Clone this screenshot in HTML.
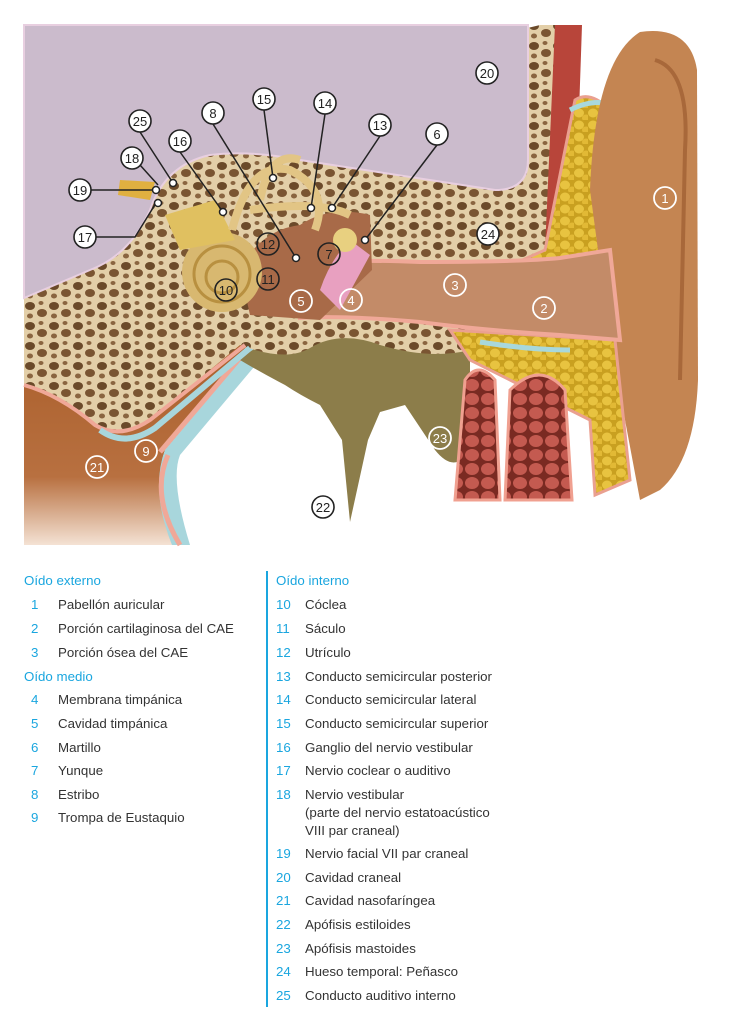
<!DOCTYPE html>
<html><head><meta charset="utf-8"><style>
html,body{margin:0;padding:0;background:#fff;}
body{width:743px;height:1024px;position:relative;overflow:hidden;font-family:"Liberation Sans",sans-serif;}
.t{position:absolute;font-size:13.3px;color:#333;white-space:nowrap;line-height:18px;}
.h{color:#1aa6df;}
.n{position:absolute;font-size:13.3px;color:#1aa6df;line-height:18px;}
</style></head><body>
<svg width="743" height="560" style="position:absolute;left:0;top:0" xmlns="http://www.w3.org/2000/svg">
<defs>
<pattern id="bone" width="24" height="20" patternUnits="userSpaceOnUse">
<rect width="24" height="20" fill="#e3cfa8"/>
<ellipse cx="6" cy="6" rx="5" ry="4" fill="#6b4a2a"/>
<ellipse cx="18" cy="13" rx="5" ry="4" fill="#7a5532"/>
<ellipse cx="17" cy="3" rx="2.5" ry="2" fill="#8a6540"/>
<ellipse cx="6" cy="16" rx="3" ry="2.5" fill="#8a6540"/>
</pattern>
<pattern id="fat" width="14" height="12" patternUnits="userSpaceOnUse">
<rect width="14" height="12" fill="#c9a020"/>
<ellipse cx="5" cy="5" rx="5" ry="4.5" fill="#e8c340"/>
<ellipse cx="12" cy="10" rx="4" ry="3.5" fill="#e2b935"/>
</pattern>
<pattern id="musc" width="16" height="14" patternUnits="userSpaceOnUse">
<rect width="16" height="14" fill="#7a2a22"/>
<ellipse cx="8" cy="7" rx="7" ry="6" fill="#c45a50"/>
</pattern>
<linearGradient id="naso" x1="0" y1="0" x2="0" y2="1">
<stop offset="0" stop-color="#a85c28"/><stop offset="0.7" stop-color="#b87040"/><stop offset="1" stop-color="#f4e2d4"/>
</linearGradient>
</defs>
<!-- nasopharynx + tube -->
<path d="M24,380 L250,318 L270,325 L165,450 Q150,490 185,545 L24,545 Z" fill="url(#naso)"/>
<path d="M165,450 L270,325 L285,330 L180,455 Q170,480 190,545 L172,545 Q150,490 165,450 Z" fill="#a8d6dc"/>
<path d="M160,452 L268,325" fill="none" stroke="#f0a898" stroke-width="5"/>
<path d="M168,455 Q150,495 180,545" fill="none" stroke="#f0a898" stroke-width="5"/>
<!-- styloid region -->
<path d="M240,360 Q260,340 300,335 L470,340 L470,450 Q455,475 435,450 L405,405 L380,412 L368,440 L350,522 L342,440 L320,405 Q300,395 285,385 Q260,372 240,360 Z" fill="#8c7d4a"/>
<!-- bone base -->
<path d="M24,150 L540,25 L560,25 L560,330 L470,330 L470,350 Q430,360 380,345 Q340,330 310,348 Q290,360 255,350 L240,345 L150,420 Q120,440 95,425 Q60,395 24,385 Z" fill="url(#bone)"/>
<path d="M24,385 Q60,395 95,425 Q120,440 150,420 L245,345" fill="none" stroke="#f0a898" stroke-width="4"/>
<path d="M100,430 Q125,448 155,428 L250,348" fill="none" stroke="#a8d6dc" stroke-width="6"/>
<!-- cranial cavity -->
<path d="M24,25 L528,25 L528,160 Q528,190 495,190 L300,160 Q250,150 210,155 Q165,165 150,210 Q130,255 90,270 L24,298 Z" fill="#cbbbcc" stroke="#e8cfe0" stroke-width="2"/>
<!-- muscle strip -->
<path d="M555,25 L582,25 L575,230 L545,250 Z" fill="#b8453a"/>
<!-- fat upper -->
<path d="M545,250 L575,100 Q590,90 610,110 L630,280 L500,270 Z" fill="url(#fat)" stroke="#eaa090" stroke-width="3"/>
<path d="M570,110 Q600,95 620,110 L620,150" fill="none" stroke="#a8d8dc" stroke-width="5"/>
<!-- pinna -->
<path d="M590,190 Q595,60 640,32 Q690,25 697,70 L698,380 Q695,460 660,490 L640,500 L610,340 Z" fill="#c48552"/>
<path d="M655,60 Q690,70 685,150 L680,380" fill="none" stroke="#a8683a" stroke-width="4"/>
<!-- lower fat -->
<path d="M450,330 L615,340 L630,480 L595,495 L590,420 L470,360 Z" fill="url(#fat)" stroke="#eaa090" stroke-width="3"/>
<path d="M480,342 Q530,350 570,350" fill="none" stroke="#a8d8dc" stroke-width="5"/>
<!-- ear canal -->
<path d="M300,268 Q320,258 420,262 Q520,262 560,258 L610,250 L620,340 L560,335 Q480,330 420,322 Q340,315 300,318 Z" fill="#c38b68" stroke="#f0a898" stroke-width="4"/>
<!-- mastoid columns -->
<path d="M455,500 L465,380 Q478,360 495,380 L500,500 Z" fill="url(#musc)" stroke="#f0a090" stroke-width="3"/>
<path d="M505,500 L510,390 Q540,360 565,390 L572,500 Z" fill="url(#musc)" stroke="#f0a090" stroke-width="3"/>
<!-- middle ear cavity -->
<path d="M240,270 Q260,230 300,225 Q330,205 370,215 L372,270 L320,320 L250,315 Z" fill="#a86a48"/>
<!-- cochlea -->
<circle cx="222" cy="272" r="40" fill="#d8b870"/>
<circle cx="222" cy="274" r="28" fill="none" stroke="#b89040" stroke-width="3"/>
<circle cx="222" cy="277" r="16" fill="none" stroke="#b89040" stroke-width="3"/>
<path d="M165,215 L215,200 L235,240 L180,250 Z" fill="#e0c060"/>
<path d="M232,230 Q250,160 290,170 Q330,190 315,230 M260,200 Q270,150 300,160 M250,210 Q320,200 350,215" fill="none" stroke="#e2c585" stroke-width="8"/>
<path d="M320,290 Q330,260 350,240 L370,255 L340,310 Z" fill="#e8a0c0"/>
<circle cx="345" cy="240" r="12" fill="#e8d080"/>
<path d="M120,180 L155,182 L150,200 L118,195 Z" fill="#e0b040"/>
</svg>
<svg width="743" height="560" style="position:absolute;left:0;top:0" xmlns="http://www.w3.org/2000/svg" font-family="Liberation Sans,sans-serif" font-size="13" text-anchor="middle">
<g stroke="#222" stroke-width="1.5" fill="none">
<line x1="213" y1="124" x2="296" y2="258"/><line x1="264" y1="110" x2="273" y2="178"/>
<line x1="325" y1="114" x2="311" y2="208"/><line x1="380" y1="136" x2="332" y2="208"/>
<line x1="437" y1="145" x2="365" y2="240"/><line x1="180" y1="152" x2="223" y2="212"/>
<line x1="140" y1="132" x2="173" y2="183"/><line x1="91" y1="190" x2="153" y2="190"/>
<polyline points="96,237 135,237 156,203"/><line x1="140" y1="165" x2="158" y2="185"/>
</g>
<g fill="#fff" stroke="#222" stroke-width="1.5">
<circle cx="296" cy="258" r="3.5"/><circle cx="273" cy="178" r="3.5"/><circle cx="311" cy="208" r="3.5"/>
<circle cx="332" cy="208" r="3.5"/><circle cx="365" cy="240" r="3.5"/><circle cx="223" cy="212" r="3.5"/>
<circle cx="173" cy="183" r="3.5"/><circle cx="156" cy="190" r="3.5"/><circle cx="158" cy="203" r="3.5"/>
</g>
<g fill="#fff" stroke="#222" stroke-width="1.6">
<circle cx="487" cy="73" r="11"/><circle cx="437" cy="134" r="11"/><circle cx="380" cy="125" r="11"/>
<circle cx="325" cy="103" r="11"/><circle cx="264" cy="99" r="11"/><circle cx="213" cy="113" r="11"/>
<circle cx="140" cy="121" r="11"/><circle cx="180" cy="141" r="11"/><circle cx="132" cy="158" r="11"/>
<circle cx="80" cy="190" r="11"/><circle cx="85" cy="237" r="11"/><circle cx="488" cy="234" r="11"/>
<circle cx="323" cy="507" r="11"/>
</g>
<g fill="none" stroke="#222" stroke-width="1.6">
<circle cx="329" cy="254" r="11"/><circle cx="268" cy="244" r="11"/><circle cx="268" cy="279" r="11"/><circle cx="226" cy="290" r="11"/>
</g>
<g fill="none" stroke="#fff" stroke-width="1.8">
<circle cx="665" cy="198" r="11"/><circle cx="544" cy="308" r="11"/><circle cx="455" cy="285" r="11"/>
<circle cx="351" cy="300" r="11"/><circle cx="301" cy="301" r="11"/><circle cx="146" cy="451" r="11"/>
<circle cx="97" cy="467" r="11"/><circle cx="440" cy="438" r="11"/>
</g>
<g fill="#222">
<text x="487" y="78">20</text><text x="437" y="139">6</text><text x="380" y="130">13</text><text x="325" y="108">14</text>
<text x="264" y="104">15</text><text x="213" y="118">8</text><text x="140" y="126">25</text><text x="180" y="146">16</text>
<text x="132" y="163">18</text><text x="80" y="195">19</text><text x="85" y="242">17</text><text x="488" y="239">24</text>
<text x="323" y="512">22</text><text x="329" y="259">7</text><text x="268" y="249">12</text><text x="268" y="284">11</text><text x="226" y="295">10</text>
</g>
<g fill="#fff">
<text x="665" y="203">1</text><text x="544" y="313">2</text><text x="455" y="290">3</text><text x="351" y="305">4</text>
<text x="301" y="306">5</text><text x="146" y="456">9</text><text x="97" y="472">21</text><text x="440" y="443">23</text>
</g>
</svg>
<div style="position:absolute;left:266px;top:571px;width:2px;height:436px;background:#1aa6df"></div>
<div class="t h" style="left:24px;top:572px">Oído externo</div>
<div class="n" style="left:31px;top:596px">1</div><div class="t" style="left:58px;top:596px">Pabellón auricular</div>
<div class="n" style="left:31px;top:620px">2</div><div class="t" style="left:58px;top:620px">Porción cartilaginosa del CAE</div>
<div class="n" style="left:31px;top:644px">3</div><div class="t" style="left:58px;top:644px">Porción ósea del CAE</div>
<div class="t h" style="left:24px;top:668px">Oído medio</div>
<div class="n" style="left:31px;top:691px">4</div><div class="t" style="left:58px;top:691px">Membrana timpánica</div>
<div class="n" style="left:31px;top:715px">5</div><div class="t" style="left:58px;top:715px">Cavidad timpánica</div>
<div class="n" style="left:31px;top:739px">6</div><div class="t" style="left:58px;top:739px">Martillo</div>
<div class="n" style="left:31px;top:762px">7</div><div class="t" style="left:58px;top:762px">Yunque</div>
<div class="n" style="left:31px;top:786px">8</div><div class="t" style="left:58px;top:786px">Estribo</div>
<div class="n" style="left:31px;top:809px">9</div><div class="t" style="left:58px;top:809px">Trompa de Eustaquio</div>
<div class="t h" style="left:276px;top:572px">Oído interno</div>
<div class="n" style="left:276px;top:596px">10</div><div class="t" style="left:305px;top:596px">Cóclea</div>
<div class="n" style="left:276px;top:620px">11</div><div class="t" style="left:305px;top:620px">Sáculo</div>
<div class="n" style="left:276px;top:644px">12</div><div class="t" style="left:305px;top:644px">Utrículo</div>
<div class="n" style="left:276px;top:668px">13</div><div class="t" style="left:305px;top:668px">Conducto semicircular posterior</div>
<div class="n" style="left:276px;top:691px">14</div><div class="t" style="left:305px;top:691px">Conducto semicircular lateral</div>
<div class="n" style="left:276px;top:715px">15</div><div class="t" style="left:305px;top:715px">Conducto semicircular superior</div>
<div class="n" style="left:276px;top:739px">16</div><div class="t" style="left:305px;top:739px">Ganglio del nervio vestibular</div>
<div class="n" style="left:276px;top:762px">17</div><div class="t" style="left:305px;top:762px">Nervio coclear o auditivo</div>
<div class="n" style="left:276px;top:786px">18</div><div class="t" style="left:305px;top:786px">Nervio vestibular<br>(parte del nervio estatoacústico<br>VIII par craneal)</div>
<div class="n" style="left:276px;top:845px">19</div><div class="t" style="left:305px;top:845px">Nervio facial VII par craneal</div>
<div class="n" style="left:276px;top:869px">20</div><div class="t" style="left:305px;top:869px">Cavidad craneal</div>
<div class="n" style="left:276px;top:892px">21</div><div class="t" style="left:305px;top:892px">Cavidad nasofaríngea</div>
<div class="n" style="left:276px;top:916px">22</div><div class="t" style="left:305px;top:916px">Apófisis estiloides</div>
<div class="n" style="left:276px;top:940px">23</div><div class="t" style="left:305px;top:940px">Apófisis mastoides</div>
<div class="n" style="left:276px;top:963px">24</div><div class="t" style="left:305px;top:963px">Hueso temporal: Peñasco</div>
<div class="n" style="left:276px;top:987px">25</div><div class="t" style="left:305px;top:987px">Conducto auditivo interno</div>
</body></html>
